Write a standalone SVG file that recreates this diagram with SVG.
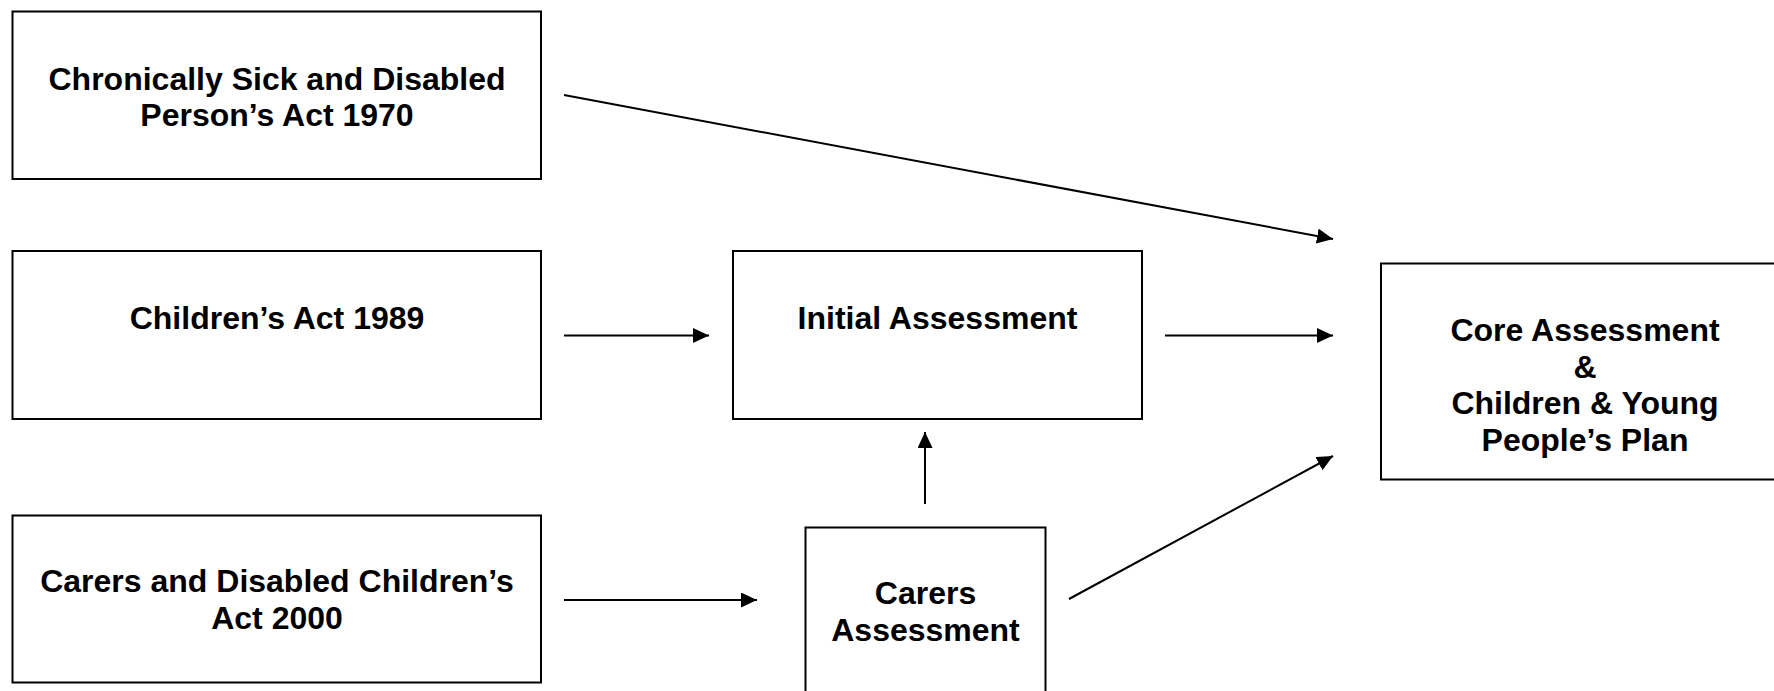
<svg xmlns="http://www.w3.org/2000/svg" width="1774" height="691" viewBox="0 0 1774 691">
<style>
.box{fill:#fff;stroke:#000;stroke-width:2}
.t{font-family:"Liberation Sans",Arial,sans-serif;font-weight:bold;font-size:32px;fill:#000;text-anchor:middle}
.c{stroke:#000;stroke-width:2;fill:none;marker-end:url(#ah)}
</style>
<defs>
<marker id="ah" markerUnits="userSpaceOnUse" markerWidth="16" markerHeight="15" refX="16" refY="7.5" orient="auto">
<path d="M0,0 L16,7.5 L0,15 z" fill="#000"/>
</marker>
</defs>
<rect width="1774" height="691" fill="#fff"/>
<g id="csdpa">
<rect class="box" x="12.5" y="11.5" width="528.5" height="167.5"/>
<text class="t" x="277" y="90">Chronically Sick and Disabled</text>
<text class="t" x="277" y="126">Person’s Act 1970</text>
</g>
<g id="ca1989">
<rect class="box" x="12.5" y="251" width="528.5" height="168"/>
<text class="t" x="277" y="329">Children’s Act 1989</text>
</g>
<g id="cdca2000">
<rect class="box" x="12.5" y="515.5" width="528.5" height="167"/>
<text class="t" x="277" y="592">Carers and Disabled Children’s</text>
<text class="t" x="277" y="629">Act 2000</text>
</g>
<g id="initial">
<rect class="box" x="733" y="251" width="409" height="168"/>
<text class="t" x="937.5" y="329">Initial Assessment</text>
</g>
<g id="carers">
<rect class="box" x="805.5" y="527.5" width="240" height="180"/>
<text class="t" x="925.5" y="604">Carers</text>
<text class="t" x="925.5" y="641">Assessment</text>
</g>
<g id="core">
<rect class="box" x="1381" y="263.5" width="420" height="216"/>
<text class="t" x="1585" y="341">Core Assessment</text>
<text class="t" x="1585" y="378">&amp;</text>
<text class="t" x="1585" y="414">Children &amp; Young</text>
<text class="t" x="1585" y="451">People’s Plan</text>
</g>
<g id="connectors">
<line class="c" x1="564" y1="95" x2="1333" y2="239"/>
<line class="c" x1="564" y1="335.5" x2="709" y2="335.5"/>
<line class="c" x1="1165" y1="335.5" x2="1333" y2="335.5"/>
<line class="c" x1="564" y1="600" x2="757" y2="600"/>
<line class="c" x1="925" y1="504" x2="925" y2="432"/>
<line class="c" x1="1069" y1="599" x2="1333" y2="456"/>
</g>
</svg>
